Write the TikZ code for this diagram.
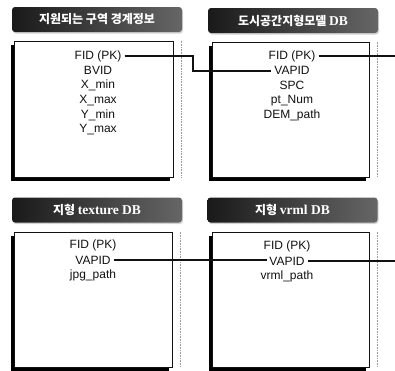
\documentclass[tikz,border=0pt]{standalone}
\usepackage{fontspec}
\setmainfont{Liberation Sans}
\newfontfamily\hangul{Noto Sans CJK KR}
\newfontfamily\titleserif{Liberation Serif}
\usepackage{tikz}
\usetikzlibrary{positioning,shadows}
\definecolor{Ink}{HTML}{111111}
\definecolor{Halftone}{HTML}{9A9A9A}
\tikzset{
  titlebar/.style={rounded corners=3pt,minimum width=170pt,minimum height=25pt,text=white,
    left color=black!90,middle color=black,right color=black!60,
    font=\hangul\bfseries\fontsize{12}{13}\selectfont,
    drop shadow={shadow xshift=1pt,shadow yshift=-1.5pt,opacity=0.35}},
  tablebox/.style={draw=Ink,line width=0.8pt,fill=white,
    drop shadow={shadow xshift=-3.5pt,shadow yshift=-3.5pt,fill=black,opacity=1}},
  field/.style={inner xsep=3pt,inner ysep=0pt,minimum height=14.4pt,text=Ink,font=\fontsize{12}{14}\selectfont},
  edgedots/.style={densely dotted,draw=Halftone,line width=0.6pt},
  link/.style={line width=1.8pt,draw=Ink}
}
\newcommand{\lat}[1]{{\titleserif\fontsize{13.5}{14}\selectfont #1}}
\begin{document}
\begin{tikzpicture}[x=1pt,y=-1pt]
\useasboundingbox (0,0) rectangle (395,370);
% title bars
\node[titlebar] (titleA) at (97,19.5) {지원되는 구역 경계정보};
\node[titlebar] (titleB) at (293,20.5) {도시공간지형모델 \lat{DB}};
\node[titlebar] (titleC) at (97,210) {지형 \lat{texture DB}};
\node[titlebar] (titleD) at (292.5,210) {지형 \lat{vrml DB}};
% table boxes
\node[tablebox,minimum width=159pt,minimum height=136pt] (boxA) at (93.5,109) {};
\node[tablebox,minimum width=157pt,minimum height=135pt] (boxB) at (290.5,109.5) {};
\node[tablebox,minimum width=158pt,minimum height=135pt] (boxC) at (93,299.5) {};
\node[tablebox,minimum width=157pt,minimum height=135pt] (boxD) at (290.5,299.5) {};
\foreach \b in {boxA,boxB,boxC,boxD}
  \draw[edgedots] ([xshift=8pt]\b.north east) -- ([xshift=8pt]\b.south east);
% fields
\node[field] (a1) at (98,56) {FID (PK)};
\node[field,below=0pt of a1] (a2) {BVID};
\node[field,below=0pt of a2] (a3) {X\_min};
\node[field,below=0pt of a3] (a4) {X\_max};
\node[field,below=0pt of a4] (a5) {Y\_min};
\node[field,below=0pt of a5] (a6) {Y\_max};
\node[field] (b1) at (292,56) {FID (PK)};
\node[field,below=0pt of b1] (b2) {VAPID};
\node[field,below=0pt of b2] (b3) {SPC};
\node[field,below=0pt of b3] (b4) {pt\_Num};
\node[field,below=0pt of b4] (b5) {DEM\_path};
\node[field] (c1) at (93,245.5) {FID (PK)};
\node[field,below=0pt of c1] (c2) {VAPID};
\node[field,below=0pt of c2] (c3) {jpg\_path};
\node[field] (d1) at (287,246.5) {FID (PK)};
\node[field,below=0pt of d1] (d2) {VAPID};
\node[field,below=0pt of d2] (d3) {vrml\_path};
% connectors
\coordinate (bendA) at (193,63);
\coordinate (rimB) at (395,56);
\coordinate (rimD) at (395,262);
\draw[link] (a1.east) -- (a1.east -| bendA) -- (b2.west -| bendA) -- (b2.west);
\draw[link] (b1.east) -- (b1.east -| rimB);
\draw[link] (c2.east) -- (c2.east -| d2.west) -- (d2.west);
\draw[link] (d2.east) -- (d2.east -| rimD);
\end{tikzpicture}
\end{document}
